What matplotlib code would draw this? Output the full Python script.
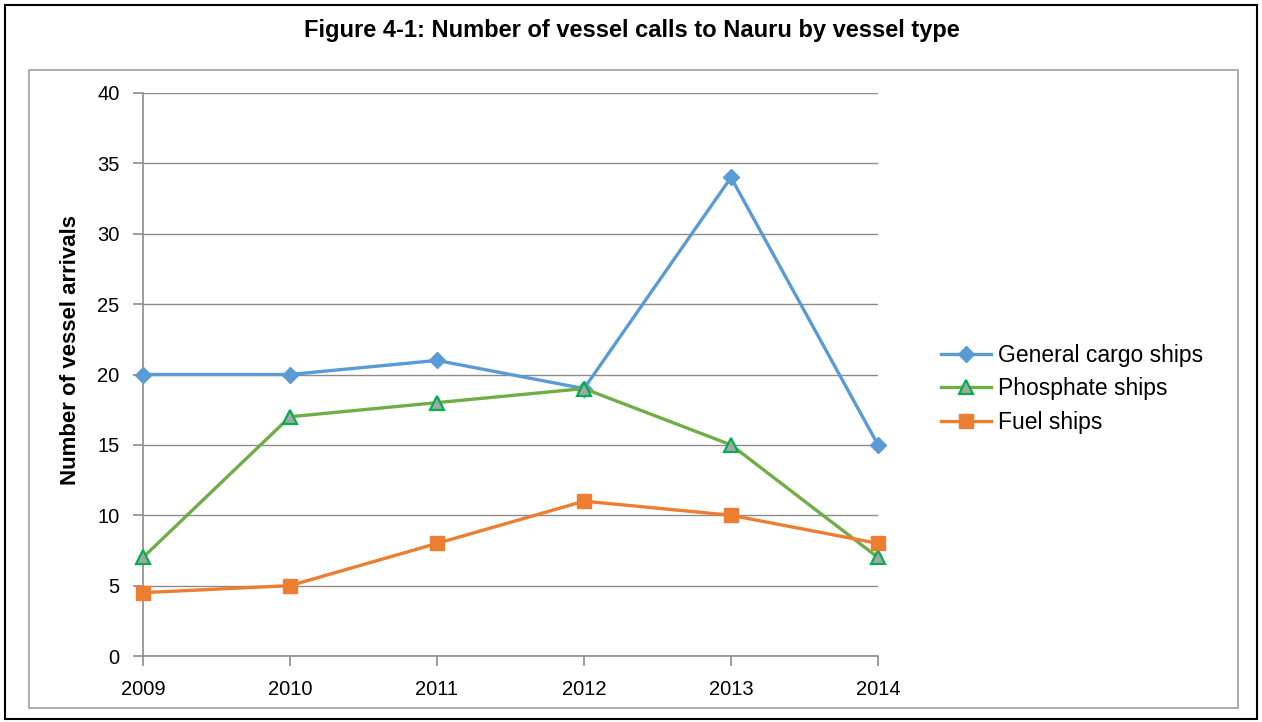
import matplotlib.pyplot as plt
from matplotlib.patches import Rectangle

years = ['2009', '2010', '2011', '2012', '2013', '2014']
general_cargo = [20, 20, 21, 19, 34, 15]
phosphate = [7, 17, 18, 19, 15, 7]
fuel = [4.5, 5, 8, 11, 10, 8]
y_ticks = [0, 5, 10, 15, 20, 25, 30, 35, 40]

plt.rcParams['font.family'] = ['Liberation Sans', 'DejaVu Sans']

W, H = 1262, 722
fig = plt.figure(figsize=(W / 100, H / 100), dpi=100)

# outer black frame and inner grey chart-area frame
fig.patches.append(Rectangle((5 / W, 3 / H), 1252 / W, 714 / H, transform=fig.transFigure,
                             fill=False, edgecolor='#000000', linewidth=1.5))
fig.patches.append(Rectangle((29 / W, 14 / H), 1209 / W, 638 / H, transform=fig.transFigure,
                             fill=False, edgecolor='#a0a0a0', linewidth=1.2))

fig.text(632 / W, 1 - 31 / H, 'Figure 4-1: Number of vessel calls to Nauru by vessel type',
         ha='center', va='center', fontsize=17, fontweight='bold')

ax = fig.add_axes([143 / W, (H - 656) / H, (878 - 143) / W, (656 - 93) / H])
x = list(range(len(years)))

ax.plot(x, general_cargo, color='#5b9bd5', lw=2.4, marker='D', ms=8,
        mfc='#5b9bd5', mec='#5b9bd5', label='General cargo ships', zorder=3)
ax.plot(x, phosphate, color='#70ad47', lw=2.4, marker='^', ms=10,
        mfc='#a5a5a5', mec='#00b050', mew=1.6, label='Phosphate ships', zorder=3)
ax.plot(x, fuel, color='#ed7d31', lw=2.4, marker='s', ms=10,
        mfc='#ed7d31', mec='#ed7d31', label='Fuel ships', zorder=3)

ax.set_xlim(0, len(years) - 1)
ax.set_ylim(0, 40)
ax.set_xticks(x)
ax.set_xticklabels(years)
ax.set_yticks(y_ticks)
ax.grid(axis='y', color='#8c8c8c', lw=1.0)
ax.set_axisbelow(True)
for s in ['top', 'right']:
    ax.spines[s].set_visible(False)
for s in ['left', 'bottom']:
    ax.spines[s].set_color('#8c8c8c')
    ax.spines[s].set_linewidth(1.2)
ax.tick_params(axis='both', colors='#8c8c8c', labelcolor='#000000', labelsize=14.5,
               length=7, width=1.2)
ax.tick_params(axis='y', pad=10)
ax.tick_params(axis='x', pad=10)
ax.set_ylabel('Number of vessel arrivals', fontsize=16, fontweight='bold')
ax.yaxis.set_label_coords(-0.084, 0.543)
for ln in ax.lines:
    ln.set_clip_on(False)

ax.legend(loc='center left', bbox_to_anchor=(920 / W, 1 - 389 / H), bbox_transform=fig.transFigure,
          frameon=False, fontsize=16.5, handlelength=2.2, handletextpad=0.3, labelspacing=0.45)

fig.savefig('out.png', dpi=100)
